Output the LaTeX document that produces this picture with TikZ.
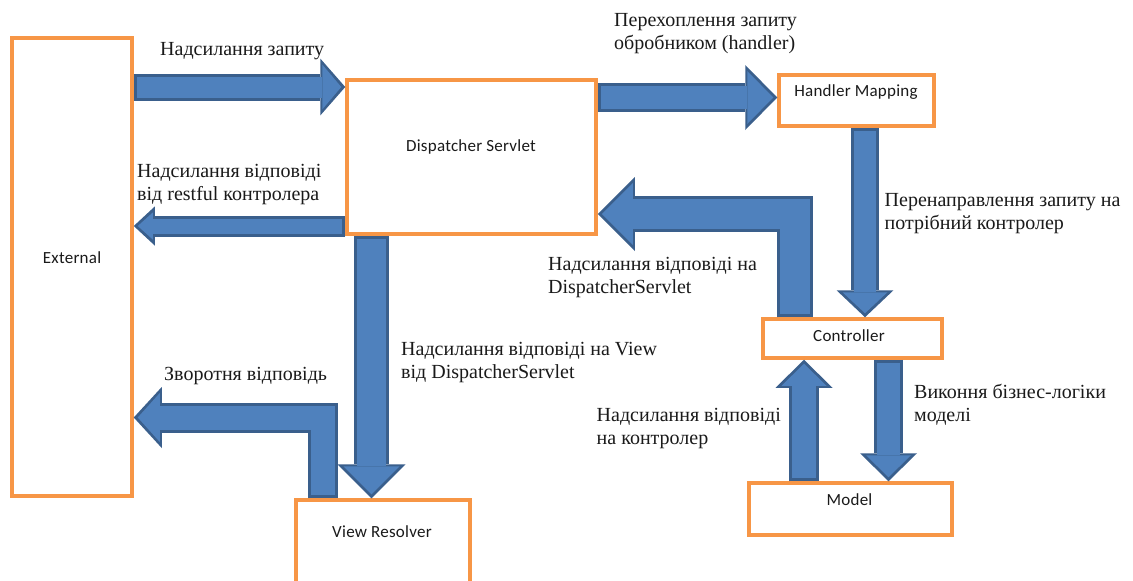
\documentclass[tikz,border=0pt]{standalone}
\usepackage{fontspec}
\setmainfont{Liberation Serif}
\newfontfamily\boxfont[LetterSpace=1.5]{Carlito}
\usetikzlibrary{arrows.meta}
\definecolor{boxorange}{HTML}{F79646}
\definecolor{arrowfill}{HTML}{4F81BD}
\definecolor{arrowedge}{HTML}{3A5F8C}
\definecolor{txt}{HTML}{1A1A1A}
\tikzset{
  box/.style={draw=boxorange, line width=3.5pt, fill=white, rectangle, inner sep=0pt},
  boxtext/.style={font=\boxfont\fontsize{17}{20}\selectfont, inner sep=0pt, text=txt},
  lbl/.style={font=\fontsize{20}{23}\selectfont, align=left, inner sep=0pt, anchor=base west, text=txt},
  barrow/.style n args={3}{line join=miter, draw=arrowfill, line width=#1-6pt,
     shorten >=4pt, shorten <=3pt,
     -{Triangle[width=#2 2, length=#3 1, line width=0pt]},
     preaction={draw=arrowedge, line width=#1, shorten >=0pt, shorten <=0pt,
       -{Triangle[width=#2 2, length=#3 1, line width=0pt]}}},
}
\begin{document}
\begin{tikzpicture}[x=1pt,y=-1pt]
\clip (0,0) rectangle (1133,581);
\fill[white] (0,0) rectangle (1133,581);

% boxes
\node[box, minimum width=120pt, minimum height=458pt] (ext) at (72,267) {};
\node[box, minimum width=249pt, minimum height=154pt] (ds) at (471.5,157) {};
\node[box, minimum width=155pt, minimum height=51pt] (hm) at (856.5,100.5) {};
\node[box, minimum width=179pt, minimum height=39pt] (ctrl) at (852.5,338.5) {};
\node[box, minimum width=203pt, minimum height=52pt] (model) at (850.5,509) {};
\node[box, minimum width=174pt, minimum height=100pt] (vr) at (383,550) {};

\node[boxtext] (exttext) at (72,258) {External};
\node[boxtext] (dstext) at (471,147) {Dispatcher Servlet};
\node[boxtext] (hmtext) at (856,92) {Handler Mapping};
\node[boxtext] (ctrltext) at (849,336) {Controller};
\node[boxtext] (modeltext) at (849.5,500) {Model};
\node[boxtext] (vrtext) at (382,532) {View Resolver};

% block arrows
\draw[barrow={27pt}{3pt}{-2pt}] (ext.east |- 0,87) -- (ds.west |- 0,87);
\draw[barrow={21pt}{-3pt}{0pt}] (ds.west |- 0,226) -- (ext.east |- 0,226);
\draw[barrow={35pt}{-2pt}{-1pt}] (ds.south -| 371.5,0) -- (vr.north -| 371.5,0);
\draw[barrow={30pt}{1pt}{-2pt}] (vr.north -| 323,0) -- (323,417.5) -- (ext.east |- 0,417.5);
\draw[barrow={29pt}{7pt}{3pt}] (ds.east |- 0,97.5) -- (hm.west |- 0,97.5);
\draw[barrow={28pt}{1pt}{-1pt}] (hm.south -| 865,0) -- (ctrl.north -| 865,0);
\draw[barrow={36pt}{2pt}{1pt}] (ctrl.north -| 795,0) -- (795,214) -- (ds.east |- 0,214);
\draw[barrow={30pt}{-3pt}{-2pt}] (model.north -| 804,0) -- (ctrl.south -| 804,0);
\draw[barrow={29pt}{-1pt}{-1pt}] (ctrl.south -| 888.5,0) -- (model.north -| 888.5,0);

% labels (anchor = baseline of the last line)
\node[lbl] (l1) at (160,55) {Надсилання запиту};
\node[lbl] (l2) at (137,200) {Надсилання відповіді\\від restful контролера};
\node[lbl] (l3) at (164,380) {Зворотня відповідь};
\node[lbl] (l4) at (401,378) {Надсилання відповіді на View\\від DispatcherServlet};
\node[lbl] (l5) at (614,49) {Перехоплення запиту\\обробником (handler)};
\node[lbl] (l6) at (884.5,229) {Перенаправлення запиту на\\потрібний контролер};
\node[lbl] (l7) at (548,293) {Надсилання відповіді на\\DispatcherServlet};
\node[lbl] (l8) at (914,421) {Виконня бізнес-логіки\\моделі};
\node[lbl] (l9) at (596.5,444) {Надсилання відповіді\\на контролер};
\end{tikzpicture}
\end{document}
